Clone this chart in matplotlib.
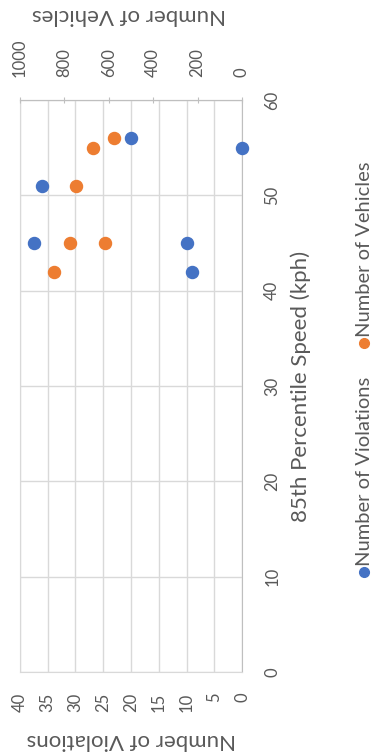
import matplotlib
matplotlib.use("Agg")
import matplotlib.pyplot as plt
from matplotlib.lines import Line2D

plt.rcParams['font.family'] = ['Lato', 'DejaVu Sans']

# Data (speed in kph, counts)
viol_speed = [56, 55, 51, 45, 45, 42]
violations = [20, 0, 36, 37.5, 10, 9]
veh_speed = [56, 55, 51, 45, 45, 42]
vehicles = [575, 670, 750, 775, 615, 845]

speed_ticks = [0, 10, 20, 30, 40, 50, 60]
viol_ticks = [0, 5, 10, 15, 20, 25, 30, 35, 40]
veh_ticks = [0, 200, 400, 600, 800, 1000]

BLUE = '#4472C4'
ORANGE = '#ED7D31'
TXT = '#595959'
GRID = '#d9d9d9'
AXL = '#bfbfbf'

W, H = 374, 752
fig = plt.figure(figsize=(W / 100, H / 100), dpi=100)
L, R, T, B = 20, 242, 100, 672
ax = fig.add_axes([L / W, 1 - B / H, (R - L) / W, (B - T) / H])

ax.set_xlim(40, 0)
ax.set_ylim(0, 60)
ax.set_xticks(viol_ticks)
ax.set_yticks(speed_ticks)
ax.grid(True, color=GRID, lw=1)
ax.set_axisbelow(True)
ax.tick_params(axis='x', length=0, pad=15, labelsize=12, labelcolor=TXT, labelrotation=90)
ax.tick_params(axis='y', length=0, pad=16, labelsize=12, labelcolor=TXT, labelrotation=90,
               left=False, labelleft=False, right=True, labelright=True)
for lab in ax.get_yticklabels():
    lab.set_va('center')
for s in ['left', 'bottom', 'top']:
    ax.spines[s].set_color(GRID)
ax.spines['right'].set_color(AXL)

ax.scatter(violations, viol_speed, s=75, color=BLUE, zorder=3, clip_on=False)

ax2 = ax.twiny()
ax2.set_xlim(1000, 0)
ax2.set_xticks(veh_ticks)
ax2.tick_params(axis='x', direction='inout', length=5, color=AXL, pad=14, labelsize=12,
                labelcolor=TXT, labelrotation=90)
ax2.spines['top'].set_color(AXL)
for s in ['left', 'bottom', 'right']:
    ax2.spines[s].set_visible(False)
ax2.scatter(vehicles, veh_speed, s=75, color=ORANGE, zorder=3, clip_on=False)

# Axis titles
fig.text(131 / W, 1 - 740 / H, 'Number of Violations', rotation=180, ha='center', va='center',
         fontsize=16, color=TXT)
fig.text(129 / W, 1 - 15 / H, 'Number of Vehicles', rotation=180, ha='center', va='center',
         fontsize=16, color=TXT)
fig.text(301 / W, 1 - 386 / H, '85th Percentile Speed (kph)', rotation=90, ha='center', va='center',
         fontsize=16, color=TXT)

# Legend (rotated)
lx = 364
for my, label, col in [(572, 'Number of Violations', BLUE), (343, 'Number of Vehicles', ORANGE)]:
    fig.add_artist(Line2D([lx / W], [1 - my / H], marker='o', color=col, ms=7, ls='none',
                          transform=fig.transFigure))
    fig.text(lx / W, 1 - (my - 6) / H, label, rotation=90, ha='center', va='bottom',
             fontsize=14.5, color=TXT)

fig.savefig('out.png', dpi=100)
